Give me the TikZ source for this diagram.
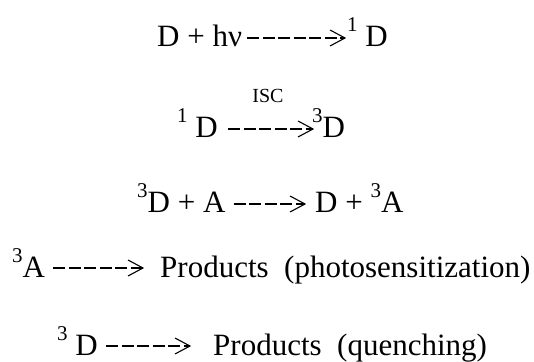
\documentclass[tikz,border=0pt]{standalone}
\usepackage{fontspec}
\setmainfont{Liberation Serif}
\usetikzlibrary{decorations.markings}
\newcommand{\spin}[1]{\raisebox{15pt}{\fontsize{21}{21}\selectfont #1}}
\tikzset{
	term/.style={
			anchor=base west,
			inner sep=0pt,
			font=\fontsize{31}{36}\selectfont
		},
	label/.style={
			anchor=base,
			inner sep=0pt,
			font=\fontsize{20}{24}\selectfont
		},
	rxn/.style={
			line width=1.2pt,
			dash pattern=on 12pt off 3.5pt,
			postaction={decorate},
			decoration={markings, mark=at position 1 with {
				\draw[solid, line width=1.1pt, line join=miter] (-15pt,8pt) -- (0,0) -- (-15pt,-8pt);}}
		}
}
\begin{document}
\begin{tikzpicture}[x=1pt, y=1pt]
\useasboundingbox (0,0) rectangle (534,361);
% excitation
\node[term] (d1) at (157,314) {D + hν};
\node[term] (s1) at (347,314) {\spin{1} D};
% intersystem crossing
\node[term] (s2) at (177,223) {\spin{1} D};
\node[term] (t2) at (312,223) {\spin{3}D};
\node[label] (isc) at (268,258) {ISC};
% energy transfer
\node[term] (t3) at (137,148) {\spin{3}D + A};
\node[term] (a3) at (315,148) {D + \spin{3}A};
% reactions of the triplets
\node[term] (a4) at (12,84) {\spin{3}A};
\node[term] (p4) at (160,84) {Products~~(photosensitization)};
\node[term] (t5) at (57,6) {\spin{3} D};
\node[term] (p5) at (213,6) {Products~~(quenching)};

\draw[rxn] ([xshift=5pt,yshift=9pt]d1.base east) -- ([xshift=-2pt,yshift=9pt]s1.base west);
\draw[rxn] ([xshift=10pt,yshift=9pt]s2.base east) -- ([xshift=1pt,yshift=9pt]t2.base west);
\draw[rxn] ([xshift=8pt,yshift=9pt]t3.base east) -- ([xshift=-10pt,yshift=9pt]a3.base west);
\draw[rxn] ([xshift=8pt,yshift=9pt]a4.base east) -- ([xshift=-17pt,yshift=9pt]p4.base west);
\draw[rxn] ([xshift=8pt,yshift=9pt]t5.base east) -- ([xshift=-23pt,yshift=9pt]p5.base west);
\end{tikzpicture}
\end{document}
